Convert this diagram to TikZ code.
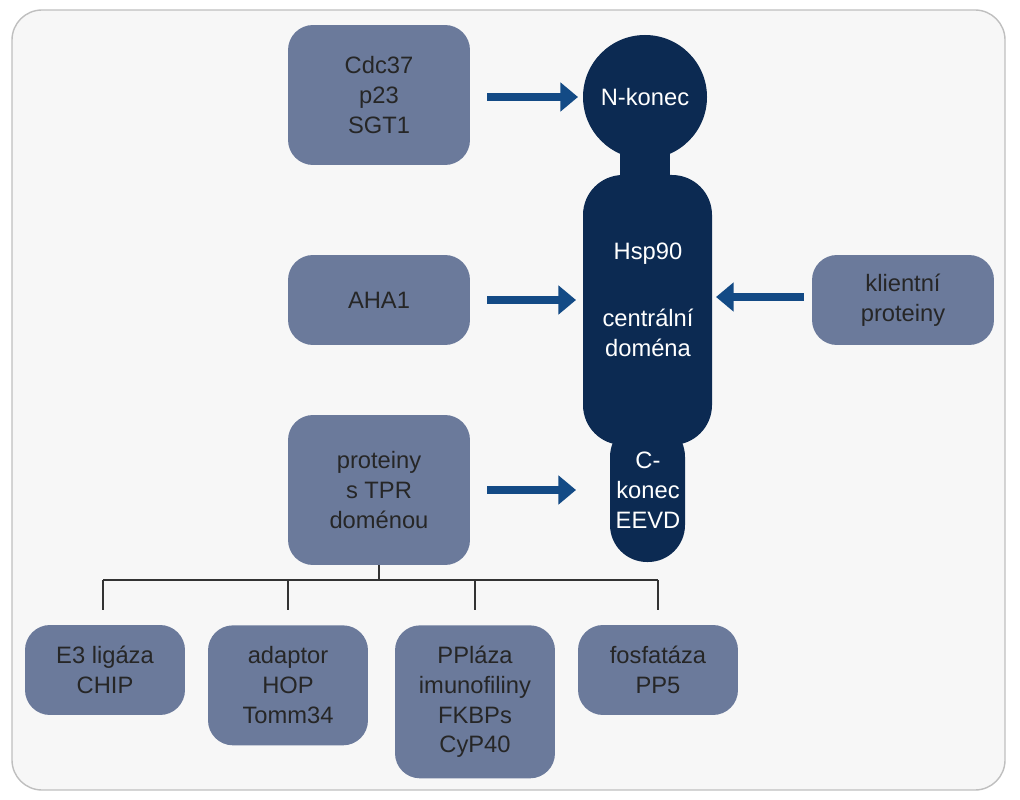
\documentclass[tikz,border=0pt]{standalone}
\usepackage{fontspec}
\setmainfont{Liberation Sans}
\usetikzlibrary{arrows.meta}
\definecolor{slate}{HTML}{6B7A9B}
\definecolor{navy}{HTML}{0C2A52}
\definecolor{arrowblue}{HTML}{134A85}
\tikzset{
  box/.style={fill=slate,rounded corners=0.5cm,align=center,text=black!85,
    font=\fontsize{13.5}{17}\selectfont},
  big/.style={box,minimum width=3.64cm},
  small/.style={box,minimum width=3.2cm},
  feed/.style={arrowblue,line width=4pt,-{Triangle[length=10pt,width=16pt]}},
  branch/.style={black!80,line width=0.7pt},
}
\begin{document}
\begin{tikzpicture}[x=0.02cm,y=-0.02cm]
\useasboundingbox (0,0) rectangle (1020,800);
%frame
\draw[black!25,fill=black!3,line width=0.8pt,rounded corners=0.6cm] (12,10) rectangle (1005,790);

%Hsp90 body
\fill[navy] (645,97) circle (62);
\fill[navy] (620,150) rectangle (670,185);
\fill[navy,rounded corners=0.8cm] (583,175) rectangle (712,445);
\fill[navy,rounded corners=0.74cm] (610,420) rectangle (685,562);
\begin{scope}[text=white,font=\fontsize{13.5}{17}\selectfont]
\node (nterm) at (645,97) {N-konec};
\node[align=center] (hsp) at (648,300) {Hsp90\\[0.75cm]centrální\\doména};
\node[align=center] (cterm) at (648,490) {C-\\konec\\EEVD};
\end{scope}

%partners
\node[big,minimum height=2.8cm] (cdc) at (379,95) {Cdc37\\p23\\SGT1};
\node[big,minimum height=1.8cm] (aha) at (379,300) {AHA1};
\node[big,minimum height=3cm] (tpr) at (379,490) {proteiny\\s TPR\\doménou};
\node[big,minimum height=1.8cm] (client) at (903,300) {klientní\\proteiny};

\coordinate (nin) at (578,97);
\coordinate (hin) at (576,300);
\coordinate (cin) at (576,490);
\coordinate (rin) at (716,297);
\draw[feed] (cdc.east)++(17,2) -- (nin);
\draw[feed] (aha.east)++(17,0) -- (hin);
\draw[feed] (tpr.east)++(17,0) -- (cin);
\draw[feed] (client.west)++(-8,-3) -- (rin);

%TPR proteins
\node[small,minimum height=1.8cm] (chip) at (105,670) {E3 ligáza\\CHIP};
\node[small,minimum height=2.4cm,anchor=north] (hop) at (288,625) {adaptor\\HOP\\Tomm34};
\node[small,minimum height=3.06cm,anchor=north] (ppl) at (475,625) {PPláza\\imunofiliny\\FKBPs\\CyP40};
\node[small,minimum height=1.8cm] (pp5) at (658,670) {fosfatáza\\PP5};

\coordinate (fork) at (379,580);
\draw[branch] (tpr.south) -- (fork);
\draw[branch] (103,580) -- (658,580);
\foreach \n/\x in {chip/103,hop/288,ppl/475,pp5/658}
  \draw[branch] (\x,580) -- (\x,610);
\end{tikzpicture}
\end{document}
